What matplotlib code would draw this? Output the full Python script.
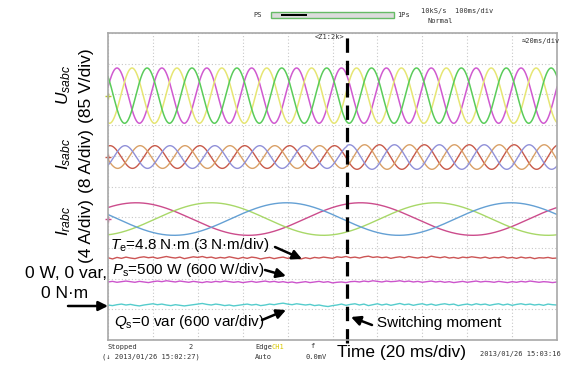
import numpy as np
import matplotlib.pyplot as plt

plt.rcParams['font.family'] = ['Liberation Sans', 'DejaVu Sans']
plt.rcParams['mathtext.fontset'] = 'custom'
plt.rcParams['mathtext.rm'] = 'Liberation Sans'
plt.rcParams['mathtext.it'] = 'Liberation Sans:italic'

# --- readings from the scope screen (time in ms, levels in divisions) ---
t_switch = 106.5

# stator voltages U_sabc (50 Hz)
u_colors = ['#d05ad0', '#e6e673', '#5acc5a']
u_peak_ms = [4.0, 10.7, 17.4]
u_freq = 50
u_level = 7.96
u_amp = 0.90

# stator currents I_sabc (50 Hz), amplitude before / after switching
i_colors = ['#c85a4a', '#d9a066', '#9090d8']
i_peak_ms = [0.9, 14.3, 7.6]
i_freq = 50
i_level = 5.96
i_amp = [0.37, 0.40]

# rotor currents I_rabc (10 Hz)
r_colors = ['#cc4c8c', '#a8d868', '#64a0d4']
r_peak_ms = [12.5, 46.0, 79.5]
r_freq = 10
r_level = 3.94
r_amp = 0.53

# torque, active and reactive power: level + ripple (0.01 div), one value every 2 ms
te_level = 2.67
te_ripple = [1, -3, 2, -1, 3, 0, -2, 2, 4, 1, 3, -1, 2, 5, 2, 0, 3, -2, 1, 4,
             2, 5, 1, 3, -1, 2, 0, 4, 1, -2, 2, -1, 3, 1, -3, 0, 2, -2, 1, 3,
             -1, 2, 0, -3, 1, -2, 2, 0, 3, 1, -1, 4, 2, 5, 1, 3, 0, 4, 6, 2,
             4, 1, 3, -1, 2, 4, 1, 5, 2, 0, 3, 1, 6, 3, 1, 4, 0, 2, -1, 3,
             1, 4, 2, 0, 3, -1, 2, 1, 4, 0, 2, -1, 3, 0, 2, -2, 1, 0, 2, -1, 0]
ps_level = 1.89
ps_ripple = [0, 2, -1, 1, 3, 1, -1, 2, 0, -2, 1, 3, 1, 4, 2, 0, 3, 1, -1, 2,
             0, -2, 1, -1, 2, 0, 3, 1, -1, 1, -2, 0, 2, -1, 1, 3, 0, 2, -1, 1,
             -2, 0, -3, -1, 1, -2, 0, 2, -1, 1, -3, -1, 0, -2, 1, 2, 0, 3, 1, 4,
             2, 0, 3, 1, 2, 4, 1, 3, 0, 2, -1, 1, 3, 0, 2, -1, 1, -2, 0, 2,
             -1, 1, 3, 0, 2, 1, -1, 2, 0, -2, 1, -1, 2, 0, 3, 1, -1, 1, 0, -2, 0]
qs_level = 1.14
qs_ripple = [0, -2, 1, 3, 0, 2, -1, -3, 0, 2, 4, 1, 3, 0, -2, 1, -1, -3, -1, 1,
             3, 5, 2, 0, 3, 1, -2, 0, -3, -1, 1, 3, 0, 2, -2, 0, 3, 1, 4, 6,
             3, 1, 4, 2, 0, 2, -2, 0, -3, -5, -2, 0, 3, -1, 2, 4, 0, 3, -2, 1,
             4, 0, 3, -1, 2, 5, 1, 3, -1, 2, 4, 0, 3, -1, 2, 4, 1, 3, -2, 1,
             3, 0, 4, 1, 3, -1, 2, 4, 0, 3, -1, 2, 4, 1, 3, 0, 2, -1, 3, 1, 0]
flat_colors = ['#cc5555', '#cc55cc', '#55cccc']

# channel ground markers on the left edge
marker_levels = [7.96, 5.96, 3.94]
marker_colors = ['#b8c830', '#c85a4a', '#cc4c8c']

W, H = 575, 369
fig = plt.figure(figsize=(W / 100, H / 100), dpi=100)


def fx(x, y):
    # pixel position -> figure fraction
    return x / W, 1 - y / H


ax = fig.add_axes([108 / W, 1 - 340 / H, 449 / W, 307 / H])
ax.set_xlim(0, 200)
ax.set_ylim(0, 10)
ax.set_xticks(np.arange(0, 201, 20))
ax.set_yticks(np.arange(0, 11, 1))
ax.tick_params(length=0, labelbottom=False, labelleft=False)
ax.grid(True, color='#c8c8c8', lw=0.8, ls=(0, (1, 2)))
for s in ax.spines.values():
    s.set_color('#a8a8a8')
    s.set_linewidth(1.2)

t = np.linspace(0, 200, 2001)
for c, p in zip(u_colors, u_peak_ms):
    ax.plot(t, u_level + u_amp * np.cos(2 * np.pi * u_freq * (t - p) / 1000), color=c, lw=1.1)
amp_i = np.where(t < t_switch, i_amp[0], i_amp[1])
for c, p in zip(i_colors, i_peak_ms):
    ax.plot(t, i_level + amp_i * np.cos(2 * np.pi * i_freq * (t - p) / 1000), color=c, lw=1.0)
for c, p in zip(r_colors, r_peak_ms):
    ax.plot(t, r_level + r_amp * np.cos(2 * np.pi * r_freq * (t - p) / 1000), color=c, lw=1.0)
for lev, rip, c in zip([te_level, ps_level, qs_level], [te_ripple, ps_ripple, qs_ripple], flat_colors):
    tt = np.linspace(0, 200, len(rip))
    ax.plot(tt, lev + np.array(rip) / 100, color=c, lw=1.0)

for lev, c in zip(marker_levels, marker_colors):
    ax.plot([0], [lev], marker='+', ms=4, mew=1.0, color=c, clip_on=False)

ax.axvline(t_switch, ymin=-0.01, ymax=1, color='k', lw=2.3, ls=(0, (4.5, 2.5)), clip_on=False)

# y labels (two lines each, rotated)
lab = dict(rotation=90, ha='center', va='center', fontsize=12.5)
fig.text(*fx(64, 85), '$U_{sabc}$', **lab)
fig.text(*fx(87, 86), '(85 V/div)', **lab)
fig.text(*fx(64, 154), '$I_{sabc}$', **lab)
fig.text(*fx(87, 161), '(8 A/div)', **lab)
fig.text(*fx(64, 221), '$I_{rabc}$', **lab)
fig.text(*fx(87, 231), '(4 A/div)', **lab)

# annotations
fig.text(*fx(110, 245), r'$T_\mathrm{e}$=4.8 N·m (3 N·m/div)', fontsize=11, va='center')
fig.text(*fx(112, 270), r'$P_\mathrm{s}$=500 W (600 W/div)', fontsize=11, va='center')
fig.text(*fx(114, 322), r'$Q_\mathrm{s}$=0 var (600 var/div)', fontsize=11, va='center')
fig.text(*fx(107, 273), '0 W, 0 var,', fontsize=12.5, va='center', ha='right')
fig.text(*fx(65, 293), '0 N·m', fontsize=12.5, va='center', ha='center')
fig.text(*fx(377, 323), 'Switching moment', fontsize=11, va='center')
fig.text(*fx(337, 353), 'Time (20 ms/div)', fontsize=12.5, va='center')

arrows = [((275, 247), (302, 259)), ((265, 270), (286, 276)), ((68, 306), (108, 306)),
          ((262, 320), (286, 310)), ((372, 325), (351, 317))]
for (x0, y0), (x1, y1) in arrows:
    fig.add_artist(plt.matplotlib.patches.FancyArrowPatch(
        fx(x0, y0), fx(x1, y1), transform=fig.transFigure, arrowstyle='-|>',
        mutation_scale=14, lw=1.8, color='k', shrinkA=0, shrinkB=0))

# scope screen status text
mono = dict(family='DejaVu Sans Mono', fontsize=5, color='#333333')
fig.text(*fx(315, 37), '<Z1:2k>', va='center', **mono)
fig.text(*fx(522, 41), '\u224820ms/div', va='center', **mono)
fig.text(*fx(421, 11), '10kS/s  100ms/div', va='center', **mono)
fig.text(*fx(427, 21), 'Normal', va='center', **mono)
fig.text(*fx(262, 15), 'PS', va='center', ha='right', **mono)
fig.text(*fx(397, 15), '1Ps', va='center', **mono)
bx0, by0 = fx(271, 18)
bx1, by1 = fx(394, 12)
fig.add_artist(plt.Rectangle((bx0, by0), bx1 - bx0, by1 - by0, transform=fig.transFigure,
                             facecolor='#dcdcdc', edgecolor='#66bb66', lw=1.0))
kx0, ky0 = fx(281, 15.6)
kx1, ky1 = fx(307, 13.6)
fig.add_artist(plt.Rectangle((kx0, ky0), kx1 - kx0, ky1 - ky0, transform=fig.transFigure,
                             facecolor='k', edgecolor='none'))
fig.text(*fx(107, 347), 'Stopped', va='center', **mono)
fig.text(*fx(102, 357), '(\u2193 2013/01/26 15:02:27)', va='center', **mono)
fig.text(*fx(188, 347), '2', va='center', **mono)
fig.text(*fx(255, 347), 'Edge', va='center', **mono)
fig.text(*fx(272, 347), 'CH1', va='center', family='DejaVu Sans Mono', fontsize=5, color='#d8c800')
fig.text(*fx(255, 357), 'Auto', va='center', **mono)
fig.text(*fx(306, 357), '0.0mV', va='center', **mono)
fig.text(*fx(310, 346), 'f', va='center', **mono)
fig.text(*fx(480, 354), '2013/01/26 15:03:16', va='center', **mono)

fig.savefig('out.png', dpi=100)
